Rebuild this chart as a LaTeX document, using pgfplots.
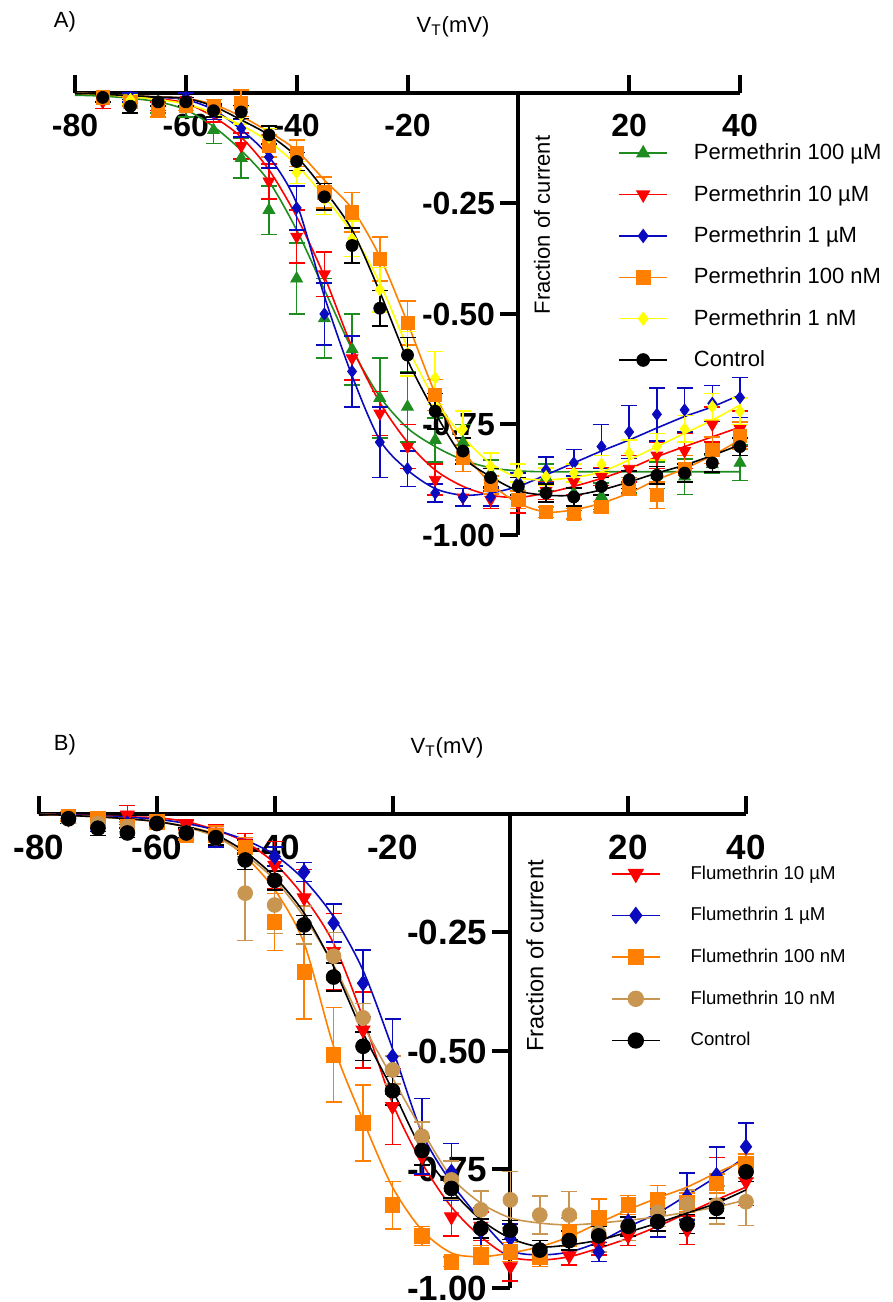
\documentclass[border=0pt]{standalone}
\usepackage{fontspec}
\setmainfont{Liberation Sans}
\usepackage{pgfplots}
\pgfplotsset{compat=1.18}
\definecolor{cgreen}{RGB}{30,140,30}
\definecolor{cred}{RGB}{255,0,0}
\definecolor{cblue}{RGB}{10,10,190}
\definecolor{corange}{RGB}{255,128,0}
\definecolor{cyellow}{RGB}{255,255,0}
\definecolor{ctan}{RGB}{200,150,80}
\pgfplotsset{
  myaxis/.style={
    scale only axis, axis lines=middle, axis line style={-, line width=2pt},
    xmin=-80, xmax=40, ymin=-1, ymax=0, clip=false,
    xtick={-80,-60,-40,-20,0,20,40}, xticklabels={-80,-60,-40,-20,0,20,40},
    ytick={-1,-0.75,-0.5,-0.25}, yticklabels={-1.00,-0.75,-0.50,-0.25},
    major tick length=9pt, tick align=center,
    xtick style={line width=2pt, yshift=4.5pt, black},
    ytick style={line width=2pt, xshift=-4.5pt, black},
    legend cell align=left,
    legend image code/.code={\draw[mark repeat=2,mark phase=2,#1] plot coordinates {(0pt,0pt) (12pt,0pt) (24pt,0pt)};},
  },
  fitline/.style={no marks, smooth, solid, line width=0.8pt, forget plot},
  pts/.style={only marks, forget plot, solid,
    error bars/y dir=both, error bars/y explicit,
    error bars/error bar style={line width=0.8pt, solid},
    error bars/error mark options={rotate=90, mark size=4pt, line width=0.8pt, solid}},
  leg/.style={line width=0.8pt, solid},
}
\begin{document}
\begin{tikzpicture}
\useasboundingbox (0,0) rectangle (446.5pt,651pt);
% ---------------- Panel A ----------------
\begin{axis}[myaxis, at={(37.5pt,383.5pt)}, anchor=south west,
  width=332.5pt, height=221pt,
  xticklabel style={font=\bfseries\fontsize{16}{16}\selectfont, anchor=north, inner sep=0pt, yshift=-6pt},
  yticklabel style={font=\bfseries\fontsize{16}{16}\selectfont, anchor=east, inner sep=0pt, xshift=-7pt},
  legend style={at={(0.8075,0.904)}, anchor=north west, draw=none, fill=none,
    font=\fontsize{11}{12}\selectfont, row sep=7.2pt, column sep=11pt},
]
% Green: Permethrin 100 uM
\addplot[fitline, color=cgreen] coordinates {(-80,-0.005) (-75,-0.007) (-70,-0.012) (-65,-0.02) (-60,-0.038) (-55,-0.076) (-50,-0.13) (-45,-0.20) (-40,-0.31) (-35,-0.445) (-30,-0.58) (-25,-0.687) (-20,-0.758) (-15,-0.80) (-10,-0.83) (-5,-0.848) (0,-0.855) (5,-0.857) (10,-0.857) (15,-0.857) (20,-0.857) (25,-0.857) (30,-0.857) (35,-0.857) (40,-0.857)};
\addplot[pts, color=cgreen, mark=triangle*, mark size=3.4pt, mark options={fill=cgreen}] coordinates {
(-75,-0.01) +- (0,0.01) (-70,-0.02) +- (0,0.01) (-65,-0.03) +- (0,0.015) (-60,-0.035) +- (0,0.02)
(-55,-0.084) +- (0,0.03) (-50,-0.147) +- (0,0.045) (-45,-0.265) +- (0,0.055) (-40,-0.42) +- (0,0.08)
(-35,-0.51) +- (0,0.09) (-30,-0.58) +- (0,0.08) (-25,-0.69) +- (0,0.09) (-20,-0.71) +- (0,0.08)
(-15,-0.785) +- (0,0.05) (-10,-0.79) +- (0,0.04) (-5,-0.86) +- (0,0.03) (0,-0.89) +- (0,0.03)
(5,-0.87) +- (0,0.03) (10,-0.905) +- (0,0.04) (15,-0.912) +- (0,0.03) (20,-0.875) +- (0,0.03)
(25,-0.865) +- (0,0.03) (30,-0.868) +- (0,0.04) (35,-0.84) +- (0,0.02) (40,-0.837) +- (0,0.04)};
% Red: Permethrin 10 uM
\addplot[fitline, color=cred] coordinates {(-80,0) (-75,-0.003) (-70,-0.008) (-65,-0.013) (-60,-0.023) (-55,-0.054) (-50,-0.10) (-45,-0.174) (-40,-0.28) (-35,-0.415) (-30,-0.575) (-25,-0.70) (-20,-0.79) (-15,-0.853) (-10,-0.89) (-5,-0.91) (0,-0.915) (5,-0.905) (10,-0.89) (15,-0.872) (20,-0.85) (25,-0.823) (30,-0.80) (35,-0.778) (40,-0.756)};
\addplot[pts, color=cred, mark=triangle*, mark size=3.4pt, mark options={fill=cred, rotate=180}] coordinates {
(-75,-0.02) +- (0,0.015) (-70,-0.02) +- (0,0.01) (-65,-0.03) +- (0,0.01) (-60,-0.015) +- (0,0.015)
(-55,-0.045) +- (0,0.02) (-50,-0.12) +- (0,0.03) (-45,-0.20) +- (0,0.04) (-40,-0.325) +- (0,0.06)
(-35,-0.41) +- (0,0.05) (-30,-0.60) +- (0,0.05) (-25,-0.725) +- (0,0.05) (-20,-0.80) +- (0,0.05)
(-15,-0.875) +- (0,0.035) (-10,-0.915) +- (0,0.02) (-5,-0.92) +- (0,0.02) (0,-0.93) +- (0,0.02)
(5,-0.90) +- (0,0.02) (10,-0.88) +- (0,0.03) (15,-0.868) +- (0,0.02) (20,-0.85) +- (0,0.03)
(25,-0.82) +- (0,0.03) (30,-0.81) +- (0,0.04) (35,-0.75) +- (0,0.04) (40,-0.76) +- (0,0.04)};
% Blue: Permethrin 1 uM
\addplot[fitline, color=cblue] coordinates {(-80,0) (-75,-0.003) (-70,-0.006) (-65,-0.01) (-60,-0.015) (-55,-0.038) (-50,-0.083) (-45,-0.144) (-40,-0.25) (-35,-0.46) (-30,-0.64) (-25,-0.785) (-20,-0.853) (-15,-0.895) (-10,-0.91) (-5,-0.905) (0,-0.89) (5,-0.864) (10,-0.837) (15,-0.81) (20,-0.785) (25,-0.758) (30,-0.732) (35,-0.71) (40,-0.683)};
\addplot[pts, color=cblue, mark=diamond*, mark size=3pt, mark options={fill=cblue}] coordinates {
(-75,-0.01) +- (0,0.01) (-70,-0.01) +- (0,0.01) (-65,-0.02) +- (0,0.01) (-60,-0.01) +- (0,0.01)
(-55,-0.045) +- (0,0.015) (-50,-0.08) +- (0,0.02) (-45,-0.145) +- (0,0.025) (-40,-0.26) +- (0,0.05)
(-35,-0.50) +- (0,0.07) (-30,-0.63) +- (0,0.08) (-25,-0.79) +- (0,0.08) (-20,-0.85) +- (0,0.04)
(-15,-0.905) +- (0,0.02) (-10,-0.915) +- (0,0.02) (-5,-0.914) +- (0,0.02) (0,-0.88) +- (0,0.02)
(5,-0.853) +- (0,0.03) (10,-0.837) +- (0,0.03) (15,-0.80) +- (0,0.05) (20,-0.767) +- (0,0.06)
(25,-0.727) +- (0,0.06) (30,-0.717) +- (0,0.05) (35,-0.702) +- (0,0.04) (40,-0.689) +- (0,0.045)};
% Orange: Permethrin 100 nM
\addplot[fitline, color=corange] coordinates {(-80,0) (-75,-0.003) (-70,-0.006) (-65,-0.009) (-60,-0.012) (-55,-0.026) (-50,-0.053) (-45,-0.088) (-40,-0.13) (-35,-0.197) (-30,-0.262) (-25,-0.37) (-20,-0.52) (-15,-0.68) (-10,-0.807) (-5,-0.883) (0,-0.928) (5,-0.948) (10,-0.943) (15,-0.928) (20,-0.905) (25,-0.875) (30,-0.85) (35,-0.82) (40,-0.785)};
\addplot[pts, color=corange, mark=square*, mark size=3.3pt, mark options={fill=corange}] coordinates {
(-75,-0.01) +- (0,0.01) (-70,-0.02) +- (0,0.01) (-65,-0.035) +- (0,0.02) (-60,-0.03) +- (0,0.01)
(-55,-0.03) +- (0,0.015) (-50,-0.023) +- (0,0.03) (-45,-0.12) +- (0,0.025) (-40,-0.136) +- (0,0.03)
(-35,-0.225) +- (0,0.035) (-30,-0.27) +- (0,0.045) (-25,-0.376) +- (0,0.05) (-20,-0.52) +- (0,0.05)
(-15,-0.683) +- (0,0.035) (-10,-0.826) +- (0,0.03) (-5,-0.887) +- (0,0.02) (0,-0.92) +- (0,0.02)
(5,-0.948) +- (0,0.012) (10,-0.952) +- (0,0.012) (15,-0.936) +- (0,0.012) (20,-0.89) +- (0,0.02)
(25,-0.91) +- (0,0.03) (30,-0.85) +- (0,0.03) (35,-0.808) +- (0,0.03) (40,-0.775) +- (0,0.03)};
% Yellow: Permethrin 1 nM
\addplot[fitline, color=cyellow] coordinates {(-80,0) (-75,-0.004) (-70,-0.008) (-65,-0.015) (-60,-0.025) (-55,-0.045) (-50,-0.073) (-45,-0.11) (-40,-0.163) (-35,-0.235) (-30,-0.317) (-25,-0.43) (-20,-0.575) (-15,-0.695) (-10,-0.778) (-5,-0.838) (0,-0.87) (5,-0.875) (10,-0.87) (15,-0.857) (20,-0.83) (25,-0.80) (30,-0.77) (35,-0.74) (40,-0.706)};
\addplot[pts, color=cyellow, mark=diamond*, mark size=3pt, mark options={fill=cyellow}] coordinates {
(-75,-0.01) +- (0,0.01) (-70,-0.015) +- (0,0.01) (-65,-0.02) +- (0,0.01) (-60,-0.02) +- (0,0.01)
(-55,-0.04) +- (0,0.015) (-50,-0.05) +- (0,0.02) (-45,-0.10) +- (0,0.02) (-40,-0.18) +- (0,0.025)
(-35,-0.24) +- (0,0.035) (-30,-0.33) +- (0,0.04) (-25,-0.445) +- (0,0.05) (-20,-0.59) +- (0,0.05)
(-15,-0.645) +- (0,0.06) (-10,-0.76) +- (0,0.04) (-5,-0.845) +- (0,0.03) (0,-0.86) +- (0,0.02)
(5,-0.868) +- (0,0.02) (10,-0.86) +- (0,0.02) (15,-0.84) +- (0,0.02) (20,-0.815) +- (0,0.03)
(25,-0.80) +- (0,0.03) (30,-0.76) +- (0,0.03) (35,-0.71) +- (0,0.03) (40,-0.72) +- (0,0.03)};
% Black: Control
\addplot[fitline, color=black] coordinates {(-80,0) (-75,-0.003) (-70,-0.006) (-65,-0.009) (-60,-0.012) (-55,-0.03) (-50,-0.061) (-45,-0.095) (-40,-0.144) (-35,-0.22) (-30,-0.31) (-25,-0.45) (-20,-0.604) (-15,-0.724) (-10,-0.823) (-5,-0.868) (0,-0.9) (5,-0.91) (10,-0.91) (15,-0.898) (20,-0.88) (25,-0.86) (30,-0.842) (35,-0.82) (40,-0.796)};
\addplot[pts, color=black, mark=*, mark size=3pt, mark options={fill=black}] coordinates {
(-75,-0.01) +- (0,0.01) (-70,-0.03) +- (0,0.015) (-65,-0.02) +- (0,0.01) (-60,-0.02) +- (0,0.01)
(-55,-0.04) +- (0,0.015) (-50,-0.043) +- (0,0.015) (-45,-0.095) +- (0,0.02) (-40,-0.155) +- (0,0.02)
(-35,-0.235) +- (0,0.03) (-30,-0.345) +- (0,0.04) (-25,-0.487) +- (0,0.04) (-20,-0.593) +- (0,0.04)
(-15,-0.72) +- (0,0.04) (-10,-0.81) +- (0,0.03) (-5,-0.87) +- (0,0.02) (0,-0.89) +- (0,0.02)
(5,-0.905) +- (0,0.02) (10,-0.914) +- (0,0.02) (15,-0.89) +- (0,0.02) (20,-0.875) +- (0,0.02)
(25,-0.865) +- (0,0.02) (30,-0.86) +- (0,0.02) (35,-0.837) +- (0,0.02) (40,-0.80) +- (0,0.02)};
\addlegendimage{leg, color=cgreen, mark=triangle*, mark size=3.4pt, mark options={fill=cgreen}}
\addlegendentry{Permethrin 100 µM}
\addlegendimage{leg, color=cred, mark=triangle*, mark size=3.4pt, mark options={fill=cred, rotate=180}}
\addlegendentry{Permethrin 10 µM}
\addlegendimage{leg, color=cblue, mark=diamond*, mark size=3pt, mark options={fill=cblue}}
\addlegendentry{Permethrin 1 µM}
\addlegendimage{leg, color=corange, mark=square*, mark size=3.3pt, mark options={fill=corange}}
\addlegendentry{Permethrin 100 nM}
\addlegendimage{leg, color=cyellow, mark=diamond*, mark size=3pt, mark options={fill=cyellow}}
\addlegendentry{Permethrin 1 nM}
\addlegendimage{leg, color=black, mark=*, mark size=3pt, mark options={fill=black}}
\addlegendentry{Control}
\end{axis}
% ---------------- Panel B ----------------
\begin{axis}[myaxis, at={(19.5pt,7pt)}, anchor=south west,
  width=353.5pt, height=237pt,
  xticklabel style={font=\bfseries\fontsize{17.5}{17.5}\selectfont, anchor=north, inner sep=0pt, yshift=-6pt},
  yticklabel style={font=\bfseries\fontsize{17.5}{17.5}\selectfont, anchor=east, inner sep=0pt, xshift=-7pt},
  legend style={at={(0.80,0.909)}, anchor=north west, draw=none, fill=none,
    font=\fontsize{9.3}{11}\selectfont, row sep=8.6pt, column sep=13pt},
]
% Red: Flumethrin 10 uM
\addplot[fitline, color=cred] coordinates {(-80,0) (-75,-0.002) (-70,-0.004) (-65,-0.006) (-60,-0.008) (-55,-0.016) (-50,-0.034) (-45,-0.059) (-40,-0.104) (-35,-0.175) (-30,-0.273) (-25,-0.43) (-20,-0.61) (-15,-0.736) (-10,-0.829) (-5,-0.892) (0,-0.934) (5,-0.941) (10,-0.934) (15,-0.916) (20,-0.895) (25,-0.87) (30,-0.842) (35,-0.814) (40,-0.787)};
\addplot[pts, color=cred, mark=triangle*, mark size=4pt, mark options={fill=cred, rotate=180}] coordinates {
(-75,-0.01) +- (0,0.01) (-70,-0.01) +- (0,0.01) (-65,-0.002) +- (0,0.02) (-60,-0.017) +- (0,0.01)
(-55,-0.023) +- (0,0.01) (-50,-0.038) +- (0,0.015) (-45,-0.061) +- (0,0.02) (-40,-0.108) +- (0,0.05)
(-35,-0.177) +- (0,0.06) (-30,-0.29) +- (0,0.08) (-25,-0.456) +- (0,0.08) (-20,-0.617) +- (0,0.08)
(-15,-0.723) +- (0,0.04) (-10,-0.85) +- (0,0.04) (-5,-0.87) +- (0,0.03) (0,-0.955) +- (0,0.03)
(5,-0.935) +- (0,0.02) (10,-0.932) +- (0,0.02) (15,-0.911) +- (0,0.02) (20,-0.89) +- (0,0.02)
(25,-0.832) +- (0,0.03) (30,-0.878) +- (0,0.03) (35,-0.775) +- (0,0.05) (40,-0.776) +- (0,0.05)};
% Blue: Flumethrin 1 uM
\addplot[fitline, color=cblue] coordinates {(-80,0) (-75,-0.002) (-70,-0.004) (-65,-0.007) (-60,-0.011) (-55,-0.02) (-50,-0.034) (-45,-0.055) (-40,-0.086) (-35,-0.139) (-30,-0.217) (-25,-0.33) (-20,-0.495) (-15,-0.673) (-10,-0.778) (-5,-0.856) (0,-0.92) (5,-0.93) (10,-0.924) (15,-0.903) (20,-0.871) (25,-0.842) (30,-0.804) (35,-0.765) (40,-0.723)};
\addplot[pts, color=cblue, mark=diamond*, mark size=3.8pt, mark options={fill=cblue}] coordinates {
(-75,-0.01) +- (0,0.01) (-70,-0.027) +- (0,0.01) (-65,-0.02) +- (0,0.01) (-60,-0.017) +- (0,0.01)
(-55,-0.04) +- (0,0.01) (-50,-0.055) +- (0,0.015) (-45,-0.07) +- (0,0.015) (-40,-0.09) +- (0,0.02)
(-35,-0.122) +- (0,0.02) (-30,-0.23) +- (0,0.04) (-25,-0.357) +- (0,0.07) (-20,-0.512) +- (0,0.08)
(-15,-0.68) +- (0,0.08) (-10,-0.755) +- (0,0.06) (-5,-0.88) +- (0,0.05) (0,-0.895) +- (0,0.03)
(5,-0.935) +- (0,0.02) (10,-0.899) +- (0,0.02) (15,-0.924) +- (0,0.02) (20,-0.86) +- (0,0.02)
(25,-0.863) +- (0,0.03) (30,-0.807) +- (0,0.05) (35,-0.762) +- (0,0.06) (40,-0.702) +- (0,0.05)};
% Orange: Flumethrin 100 nM
\addplot[fitline, color=corange] coordinates {(-80,0) (-75,-0.003) (-70,-0.006) (-65,-0.01) (-60,-0.016) (-55,-0.026) (-50,-0.044) (-45,-0.09) (-40,-0.16) (-35,-0.273) (-30,-0.49) (-25,-0.646) (-20,-0.787) (-15,-0.878) (-10,-0.926) (-5,-0.934) (0,-0.926) (5,-0.913) (10,-0.892) (15,-0.863) (20,-0.835) (25,-0.81) (30,-0.787) (35,-0.757) (40,-0.73)};
\addplot[pts, color=corange, mark=square*, mark size=3.6pt, mark options={fill=corange}] coordinates {
(-75,-0.005) +- (0,0.01) (-70,-0.01) +- (0,0.01) (-65,-0.027) +- (0,0.01) (-60,-0.017) +- (0,0.01)
(-55,-0.045) +- (0,0.01) (-50,-0.045) +- (0,0.02) (-45,-0.07) +- (0,0.02) (-40,-0.228) +- (0,0.06)
(-35,-0.333) +- (0,0.1) (-30,-0.508) +- (0,0.1) (-25,-0.652) +- (0,0.08) (-20,-0.825) +- (0,0.05)
(-15,-0.89) +- (0,0.02) (-10,-0.945) +- (0,0.01) (-5,-0.93) +- (0,0.02) (0,-0.924) +- (0,0.02)
(5,-0.935) +- (0,0.02) (10,-0.882) +- (0,0.03) (15,-0.852) +- (0,0.04) (20,-0.825) +- (0,0.02)
(25,-0.814) +- (0,0.03) (30,-0.82) +- (0,0.02) (35,-0.779) +- (0,0.02) (40,-0.737) +- (0,0.02)};
% Tan: Flumethrin 10 nM
\addplot[fitline, color=ctan] coordinates {(-80,0) (-75,-0.003) (-70,-0.006) (-65,-0.01) (-60,-0.016) (-55,-0.028) (-50,-0.048) (-45,-0.086) (-40,-0.139) (-35,-0.217) (-30,-0.319) (-25,-0.445) (-20,-0.557) (-15,-0.667) (-10,-0.766) (-5,-0.821) (0,-0.852) (5,-0.863) (10,-0.867) (15,-0.863) (20,-0.857) (25,-0.85) (30,-0.84) (35,-0.829) (40,-0.814)};
\addplot[pts, color=ctan, mark=*, mark size=3.7pt, mark options={fill=ctan}] coordinates {
(-75,-0.01) +- (0,0.01) (-70,-0.02) +- (0,0.01) (-65,-0.027) +- (0,0.01) (-60,-0.02) +- (0,0.01)
(-55,-0.04) +- (0,0.01) (-50,-0.05) +- (0,0.015) (-45,-0.167) +- (0,0.1) (-40,-0.192) +- (0,0.06)
(-35,-0.234) +- (0,0.04) (-30,-0.30) +- (0,0.05) (-25,-0.43) +- (0,0.03) (-20,-0.54) +- (0,0.03)
(-15,-0.68) +- (0,0.03) (-10,-0.772) +- (0,0.04) (-5,-0.835) +- (0,0.04) (0,-0.814) +- (0,0.06)
(5,-0.846) +- (0,0.04) (10,-0.846) +- (0,0.05) (15,-0.884) +- (0,0.04) (20,-0.87) +- (0,0.03)
(25,-0.84) +- (0,0.03) (30,-0.823) +- (0,0.03) (35,-0.825) +- (0,0.04) (40,-0.818) +- (0,0.05)};
% Black: Control
\addplot[fitline, color=black] coordinates {(-80,0) (-75,-0.003) (-70,-0.006) (-65,-0.01) (-60,-0.016) (-55,-0.027) (-50,-0.044) (-45,-0.08) (-40,-0.133) (-35,-0.209) (-30,-0.322) (-25,-0.462) (-20,-0.582) (-15,-0.709) (-10,-0.793) (-5,-0.856) (0,-0.895) (5,-0.913) (10,-0.909) (15,-0.899) (20,-0.882) (25,-0.863) (30,-0.842) (35,-0.821) (40,-0.793)};
\addplot[pts, color=black, mark=*, mark size=3.7pt, mark options={fill=black}] coordinates {
(-75,-0.01) +- (0,0.01) (-70,-0.03) +- (0,0.015) (-65,-0.04) +- (0,0.01) (-60,-0.02) +- (0,0.01)
(-55,-0.04) +- (0,0.01) (-50,-0.05) +- (0,0.015) (-45,-0.097) +- (0,0.02) (-40,-0.14) +- (0,0.02)
(-35,-0.234) +- (0,0.02) (-30,-0.344) +- (0,0.03) (-25,-0.49) +- (0,0.03) (-20,-0.584) +- (0,0.03)
(-15,-0.71) +- (0,0.03) (-10,-0.79) +- (0,0.02) (-5,-0.874) +- (0,0.02) (0,-0.878) +- (0,0.02)
(5,-0.92) +- (0,0.02) (10,-0.90) +- (0,0.02) (15,-0.89) +- (0,0.02) (20,-0.87) +- (0,0.02)
(25,-0.86) +- (0,0.02) (30,-0.865) +- (0,0.02) (35,-0.832) +- (0,0.02) (40,-0.755) +- (0,0.02)};
\addlegendimage{leg, color=cred, mark=triangle*, mark size=4pt, mark options={fill=cred, rotate=180}}
\addlegendentry{Flumethrin 10 µM}
\addlegendimage{leg, color=cblue, mark=diamond*, mark size=3.8pt, mark options={fill=cblue}}
\addlegendentry{Flumethrin 1 µM}
\addlegendimage{leg, color=corange, mark=square*, mark size=3.6pt, mark options={fill=corange}}
\addlegendentry{Flumethrin 100 nM}
\addlegendimage{leg, color=ctan, mark=*, mark size=3.7pt, mark options={fill=ctan}}
\addlegendentry{Flumethrin 10 nM}
\addlegendimage{leg, color=black, mark=*, mark size=3.7pt, mark options={fill=black}}
\addlegendentry{Control}
\end{axis}
% labels
\node[font=\fontsize{11}{11}\selectfont] at (32.5pt,640pt) {A)};
\node[font=\fontsize{11}{11}\selectfont] at (226.5pt,637.5pt) {V\textsubscript{T}(mV)};
\node[font=\fontsize{11}{11}\selectfont, rotate=90] at (271pt,538.5pt) {Fraction of current};
\node[font=\fontsize{11}{11}\selectfont] at (32.5pt,278.5pt) {B)};
\node[font=\fontsize{11}{11}\selectfont] at (223.5pt,277pt) {V\textsubscript{T}(mV)};
\node[font=\fontsize{11.8}{11.8}\selectfont, rotate=90] at (267.5pt,173pt) {Fraction of current};
\end{tikzpicture}
\end{document}
